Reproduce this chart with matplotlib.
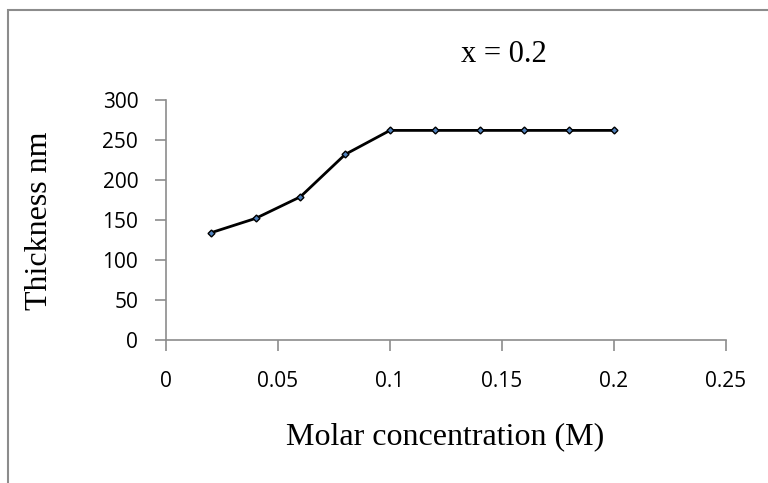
import matplotlib.pyplot as plt
from matplotlib.patches import Rectangle

# Thickness vs molar concentration, x = 0.2
molar_conc = [0.02, 0.04, 0.06, 0.08, 0.10, 0.12, 0.14, 0.16, 0.18, 0.20]
thickness = [134, 152, 179, 232, 262, 262, 262, 262, 262, 262]
x_ticks = [0, 0.05, 0.1, 0.15, 0.2, 0.25]
x_tick_labels = ["0", "0.05", "0.1", "0.15", "0.2", "0.25"]
y_ticks = [0, 50, 100, 150, 200, 250, 300]

fig = plt.figure(figsize=(7.68, 4.83), dpi=100)
ax = fig.add_axes([166 / 768, 1 - 340 / 483, (726 - 166) / 768, (340 - 100) / 483])

# outer chart frame (cut off at right and bottom like the reference)
fig.patches.append(Rectangle((8 / 768, -0.1), 1.2, 1 - 10 / 483 + 0.1,
                             transform=fig.transFigure, fill=False,
                             edgecolor="#8c8c8c", linewidth=1.5))

ax.plot(molar_conc, thickness, color="black", linewidth=2,
        marker="D", markersize=3.5, markerfacecolor="#4f81bd",
        markeredgecolor="black", markeredgewidth=1)

ax.set_xlim(0, 0.25)
ax.set_ylim(0, 300)
ax.set_xticks(x_ticks)
ax.set_xticklabels(x_tick_labels)
ax.set_yticks(y_ticks)

for side in ["top", "right"]:
    ax.spines[side].set_visible(False)
for side in ["left", "bottom"]:
    ax.spines[side].set_color("#8c8c8c")
    ax.spines[side].set_linewidth(1.2)

ax.tick_params(axis="both", direction="out", length=8, width=1.2,
               color="#8c8c8c", labelsize=15)
ax.tick_params(axis="y", pad=12)
ax.tick_params(axis="x", pad=14)
for lbl in ax.get_xticklabels() + ax.get_yticklabels():
    lbl.set_family("Open Sans")

fig.text(445 / 768, 1 - 437 / 483, "Molar concentration (M)", ha="center", va="center",
         family="Liberation Serif", fontsize=23)
fig.text(40 / 768, 1 - 221 / 483, "Thickness nm", ha="center", va="center",
         rotation=90, family="Liberation Serif", fontsize=23)
fig.text(504 / 768, 1 - 55 / 483, "x = 0.2", ha="center", va="center",
         family="Liberation Serif", fontsize=22)

fig.savefig("out.png", dpi=100)
